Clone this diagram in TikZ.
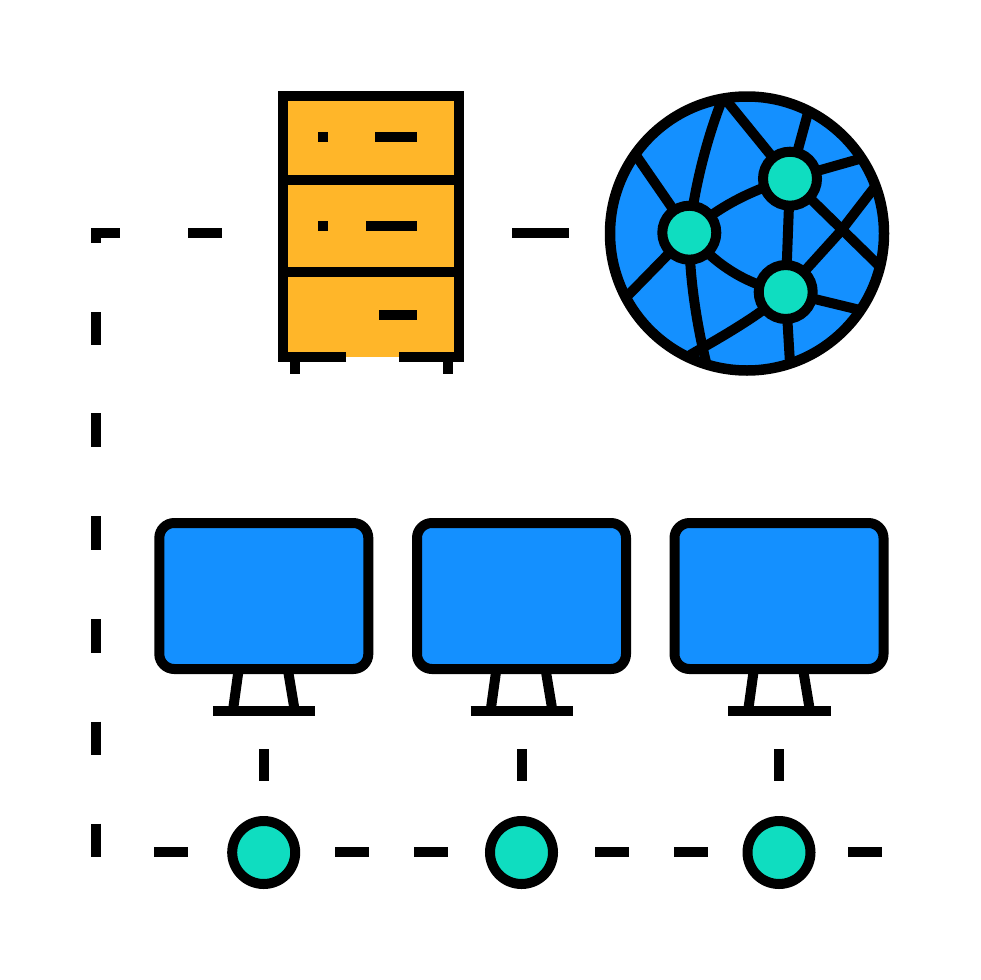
\documentclass[tikz,border=0pt]{standalone}
\definecolor{scrblue}{HTML}{1490FF}
\definecolor{tealc}{HTML}{0FDDC0}
\definecolor{cabinet}{HTML}{FFB629}
\tikzset{
  ink/.style={draw=black,line width=10pt},
  dashseg/.style={draw=black,line width=10pt,line cap=butt},
  link/.style={draw=black,line width=10pt},
  hub/.style={circle,draw=black,line width=10pt,fill=tealc,inner sep=0pt,minimum size=54pt},
  port/.style={circle,draw=black,line width=10pt,fill=tealc,inner sep=0pt,minimum size=63pt},
}
\newcommand{\monitor}[1]{%
  \begin{scope}[xshift=#1pt]
    \draw[ink,fill=scrblue,rounded corners=15pt] (-104.5,523) rectangle (104.5,669);
    \draw[ink] (-25.5,672) -- (-30.5,708);
    \draw[ink] (24.5,672) -- (30.5,708);
    \draw[ink] (-51,711) -- (51.5,711);
  \end{scope}}
\begin{document}
\begin{tikzpicture}[x=1pt,y=-1pt]
\useasboundingbox (0,0) rectangle (980,980);
\fill[white] (0,0) rectangle (980,980);
% cabinet
\fill[cabinet] (283,96) rectangle (459,356.7);
\draw[ink] (346,356.7) -- (283.3,356.7) -- (283.3,96) -- (459,96) -- (459,356.7) -- (399.3,356.7);
\draw[ink] (283,180) -- (459,180);
\draw[ink] (283,272) -- (459,272);
\draw[ink] (318,137) -- (328,137);
\draw[ink] (375.3,137) -- (417,137);
\draw[ink] (318,226.3) -- (328,226.3);
\draw[ink] (366.3,226.3) -- (417,226.3);
\draw[ink] (379.3,314.7) -- (417,314.7);
\draw[ink] (295,360) -- (295,374.3);
\draw[ink] (447.7,360) -- (447.7,374.3);
% globe
\node[circle,draw=black,line width=10.5pt,fill=scrblue,inner sep=0pt,minimum size=274pt] (globe) at (747,233.5) {};
\coordinate (n1) at (689.3,232.7);
\coordinate (n2) at (790,178.7);
\coordinate (n3) at (785.7,292);
\coordinate (top) at (723.3,96.7);
\coordinate (ul) at (635,154);
\coordinate (ur) at (861.7,158.3);
\coordinate (tr) at (808.3,111.7);
\coordinate (re) at (875,186.7);
\coordinate (rl) at (878.3,265);
\coordinate (lr) at (860,310);
\coordinate (bm) at (790,363.3);
\coordinate (bl) at (706.7,365);
\coordinate (bk) at (690,355);
\coordinate (ll) at (626.7,296.7);
\coordinate (cross) at (840,232);
\draw[link] (n1) -- (ul);
\draw[link] (n1) .. controls (694,190) and (706,140) .. (top);
\draw[link] (top) -- (n2);
\draw[link] (n2) -- (tr);
\draw[link] (n2) -- (ur);
\draw[link] (n1) .. controls (715,210) and (745,192) .. (n2);
\draw[link] (n2) -- (n3);
\draw[link] (n2) -- (rl);
\draw[link] (re) -- (cross) -- (n3);
\draw[link] (n3) -- (lr);
\draw[link] (n3) -- (bm);
\draw[link] (n3) .. controls (760,315) and (725,335) .. (bk);
\draw[link] (n1) .. controls (712,262) and (745,285) .. (n3);
\draw[link] (n1) .. controls (689,280) and (698,330) .. (bl);
\draw[link] (n1) -- (ll);
\node[hub] (hubA) at (n1) {};
\node[hub] (hubB) at (n2) {};
\node[hub] (hubC) at (n3) {};
% monitors
\monitor{263.8}
\monitor{521.5}
\monitor{779}
% client ports
\node[port] (p1) at (263.7,852.5) {};
\node[port] (p2) at (521.5,852.5) {};
\node[port] (p3) at (779,852.5) {};
% dashes
\draw[dashseg] (91,233) -- (119.7,233);
\draw[dashseg] (96,228) -- (96,243.3);
\draw[dashseg] (188.3,233) -- (222,233);
\draw[dashseg] (512,233) -- (569,233);
\foreach \a/\b in {312/345.3,413/447,516/549.5,619/652.5,721.7/755,823.7/857.3}
  \draw[dashseg] (96,\a) -- (96,\b);
\foreach \a/\b in {154/187.7,335.3/369,414/447.7,595/628.5,674/707.5,848/881.5}
  \draw[dashseg] (\a,852.3) -- (\b,852.3);
\foreach \x in {263.7,521.5,779}
  \draw[dashseg] (\x,749.3) -- (\x,781.3);
\end{tikzpicture}
\end{document}
